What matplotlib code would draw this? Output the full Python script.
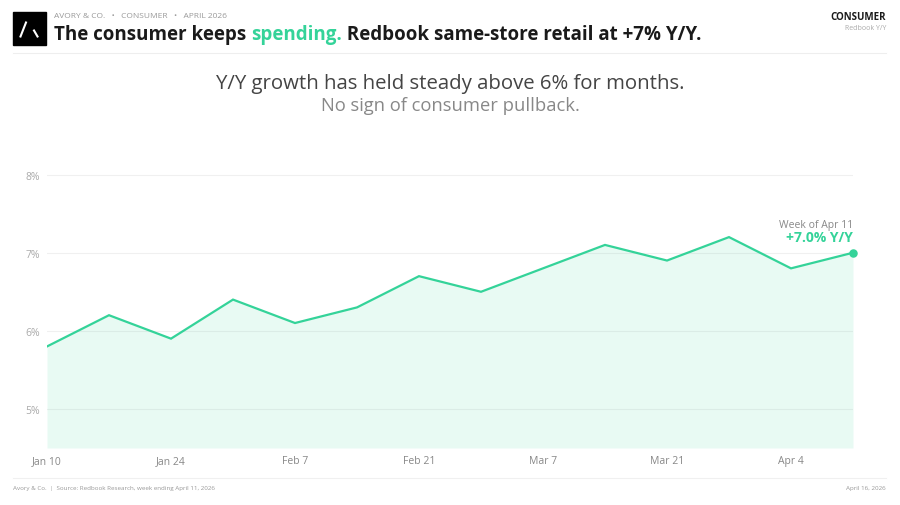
import matplotlib
matplotlib.use("Agg")
import matplotlib.pyplot as plt
from matplotlib.lines import Line2D
from matplotlib.patches import Rectangle

plt.rcParams['font.family'] = ['Open Sans', 'DejaVu Sans']

# weekly Redbook same-store sales, Y/Y %
weeks = ["Jan 10", "Jan 17", "Jan 24", "Jan 31", "Feb 7", "Feb 14", "Feb 21",
         "Feb 28", "Mar 7", "Mar 14", "Mar 21", "Mar 28", "Apr 4", "Apr 11"]
yoy = [5.8, 6.2, 5.9, 6.4, 6.1, 6.3, 6.7, 6.5, 6.8, 7.1, 6.9, 7.2, 6.8, 7.0]
y_ticks = [5, 6, 7, 8]

GREEN = "#34d399"
DARK = "#1a1a1a"

fig = plt.figure(figsize=(9, 5.06), dpi=100)
W, H = 900, 506

def fx(px):
    return px / W

def fy(py):
    return 1 - py / H

# header
fig.patches.append(Rectangle((fx(13), fy(46)), fx(33), 33 / H, transform=fig.transFigure,
                             color="black", zorder=1))
fig.add_artist(Line2D([fx(20.5), fx(26)], [fy(37.5), fy(23.5)], color="white", lw=1.5,
                      transform=fig.transFigure, zorder=2))
fig.add_artist(Line2D([fx(34), fx(37.5)], [fy(31.5), fy(37.5)], color="white", lw=1.5,
                      transform=fig.transFigure, zorder=2))

fig.text(fx(54), fy(17), "AVORY & CO.   \u2022   CONSUMER   \u2022   APRIL 2026", fontsize=6,
         color="#999999", va="center", ha="left")
t1 = fig.text(fx(54), fy(35), "The consumer keeps ", fontsize=13.5, fontweight="bold",
              color=DARK, va="center", ha="left")
t2 = fig.text(0, 0, "spending.", fontsize=13.5, fontweight="bold", color=GREEN,
              va="center", ha="left")
t3 = fig.text(0, 0, " Redbook same-store retail at +7% Y/Y.", fontsize=13.5, fontweight="bold",
              color=DARK, va="center", ha="left")

fig.text(fx(886), fy(17), "CONSUMER", fontsize=7, fontweight="bold", color=DARK,
         va="center", ha="right")
fig.text(fx(886), fy(29), "Redbook Y/Y", fontsize=5, color="#aaaaaa", va="center", ha="right")
fig.add_artist(Line2D([fx(13), fx(886)], [fy(54), fy(54)], color="#eeeeee", lw=0.8,
                      transform=fig.transFigure))

fig.text(0.5, fy(84), "Y/Y growth has held steady above 6% for months.", fontsize=14.7,
         color="#444444", ha="center", va="center")
fig.text(0.5, fy(106), "No sign of consumer pullback.", fontsize=13.2,
         color="#888888", ha="center", va="center")

# chart
ax = fig.add_axes([fx(47), fy(449), fx(853 - 47), (449 - 160) / H])
x = list(range(len(weeks)))
ax.fill_between(x, yoy, 4.5, color=GREEN, alpha=0.11, lw=0)
ax.plot(x, yoy, color=GREEN, lw=1.6, solid_joinstyle="miter")
ax.scatter([x[-1]], [yoy[-1]], s=26, color=GREEN, zorder=5, clip_on=False)

ax.set_xlim(0, len(weeks) - 1)
ax.set_ylim(4.5, 8.2)
ax.set_yticks(y_ticks)
ax.set_yticklabels([f"{v}%" for v in y_ticks])
ax.set_xticks(x[::2])
ax.set_xticklabels(weeks[::2])
ax.grid(axis="y", color="#f0f0f0", lw=0.8)
ax.set_axisbelow(True)
for s in ax.spines.values():
    s.set_visible(False)
ax.tick_params(axis="both", length=0)
ax.tick_params(axis="y", labelsize=7.5, labelcolor="#aaaaaa", pad=5)
ax.tick_params(axis="x", labelsize=7.5, labelcolor="#888888", pad=5)

ax.annotate("Week of Apr 11", (x[-1], yoy[-1]), xytext=(0, 20), textcoords="offset points",
            ha="right", va="center", fontsize=7.5, color="#888888")
ax.annotate("+7.0% Y/Y", (x[-1], yoy[-1]), xytext=(0, 11), textcoords="offset points",
            ha="right", va="center", fontsize=10, fontweight="bold", color=GREEN)

# footer
fig.add_artist(Line2D([fx(13), fx(886)], [fy(479), fy(479)], color="#f0f0f0", lw=0.8,
                      transform=fig.transFigure))
fig.text(fx(13), fy(489), "Avory & Co.  |  Source: Redbook Research, week ending April 11, 2026",
         fontsize=4.5, color="#999999", va="center", ha="left")
fig.text(fx(886), fy(489), "April 16, 2026", fontsize=4.5, color="#999999",
         va="center", ha="right")

# chain the title pieces
fig.canvas.draw()
r = fig.canvas.get_renderer()
bb = t1.get_window_extent(r)
t2.set_position((bb.x1 / fig.bbox.width, fy(35)))
bb = t2.get_window_extent(r)
t3.set_position((bb.x1 / fig.bbox.width, fy(35)))

fig.savefig("out.png", dpi=100)
